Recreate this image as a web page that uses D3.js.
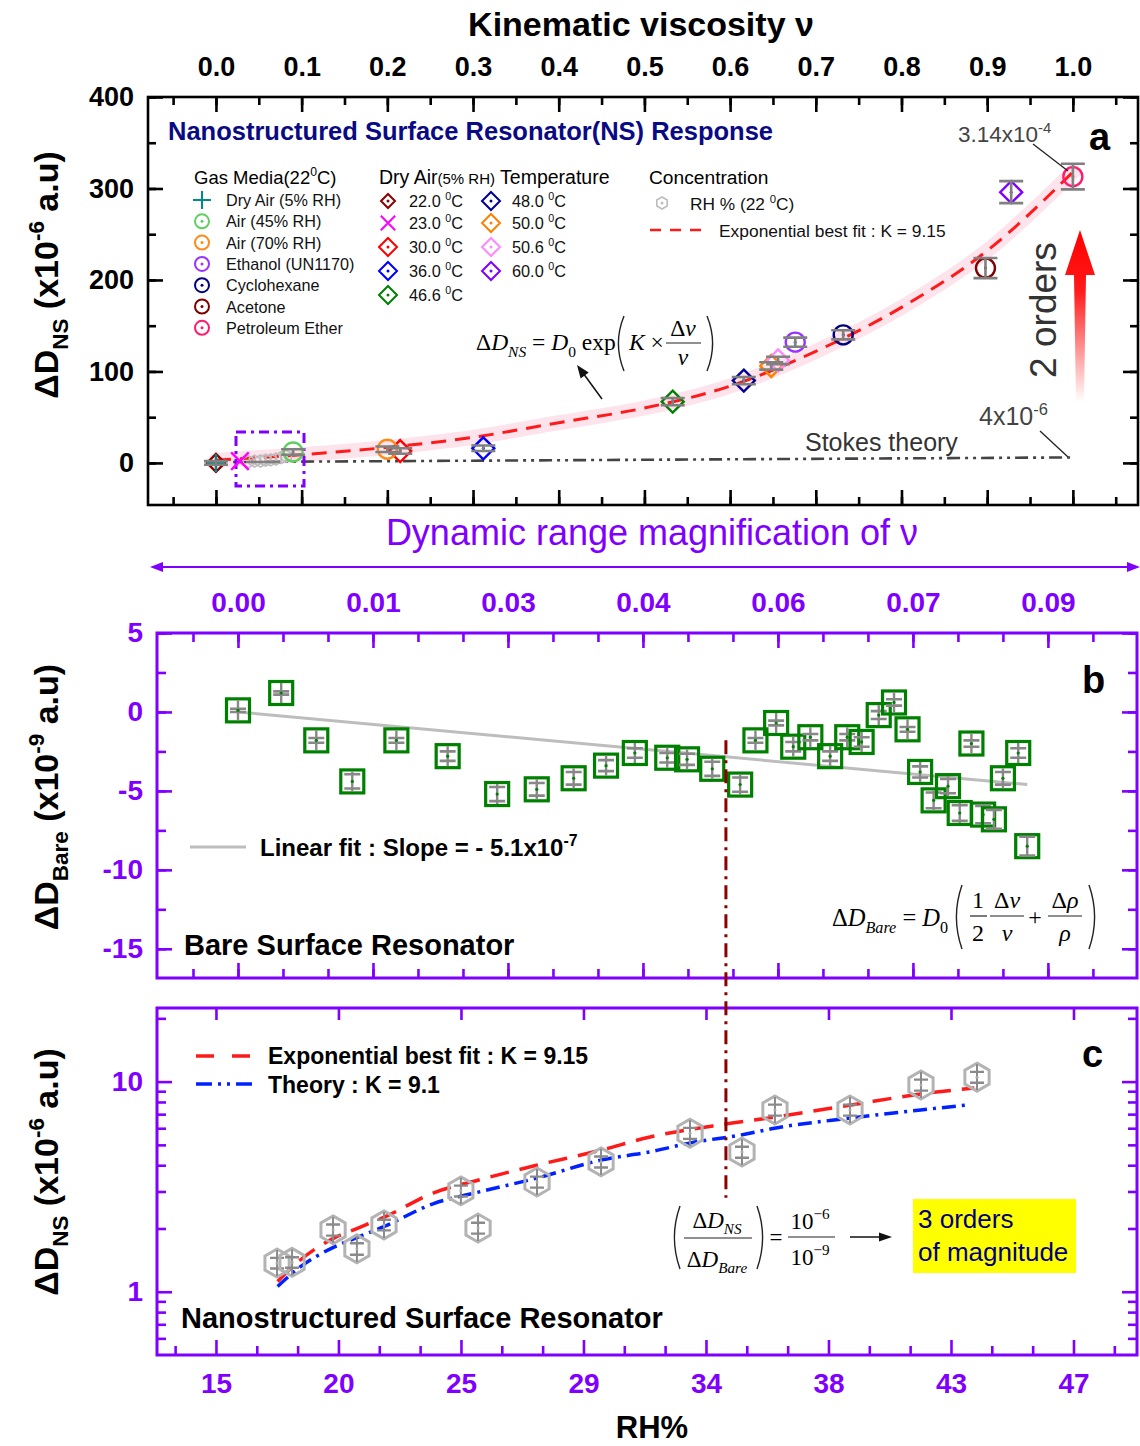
<!DOCTYPE html>
<html><head><meta charset="utf-8">
<script src="https://cdn.jsdelivr.net/npm/d3@7"></script>
<style>body{margin:0;background:#fff}svg{display:block}</style>
</head><body><svg id="chart" width="1140" height="1446"></svg>
<script>
// ---------------- DATA ----------------
// Panel a: kinematic viscosity axis
const nuTickVals = [0,0.1,0.2,0.3,0.4,0.5,0.6,0.7,0.8,0.9,1.0];
const nuTickLabels = ["0.0","0.1","0.2","0.3","0.4","0.5","0.6","0.7","0.8","0.9","1.0"];
const dNsTicks = [0,100,200,300,400];
// Gas media (22 C)
const gasNames = ["Dry Air (5% RH)","Air (45% RH)","Air (70% RH)","Ethanol (UN1170)","Cyclohexane","Acetone","Petroleum Ether"];
const gasNu  = [0.0, 0.090, 0.200, 0.676, 0.732, 0.898, 1.000];
const gasD   = [0, 12, 15, 132, 140, 213, 313];
const gasErr = [2, 3, 3, 5, 5, 11, 14];
// Dry air temperature
const tempNames = ["22.0","23.0","30.0","36.0","46.6","48.0","50.0","50.6","60.0"];
const tempNu  = [0.0, 0.028, 0.215, 0.312, 0.533, 0.616, 0.648, 0.656, 0.928];
const tempD   = [0, 2, 13, 16, 67, 90, 106, 112, 296];
const tempErr = [2, 2, 3, 3, 4, 4, 4, 4, 12];
// RH concentration points shown in panel a (inside dashed box)
const rhNuA = [0.038,0.045,0.052,0.058,0.064,0.070,0.076,0.082];
const rhDA  = [1.4,2.0,2.1,3.0,3.3,4.2,5.7,7.3];
// Exponential best fit (panel a)
const fitNuA = [0,0.1,0.2,0.3,0.4,0.5,0.6,0.7,0.8,0.9,1.0];
const fitDA  = [3,9,17,28,44,60,84,122,170,232,318];
// Stokes theory line
const stokesNu = [0.02,1.0];
const stokesD  = [1,6];

// Panel b: dynamic range magnification axis
const dynTickVals = [0,0.015,0.03,0.045,0.06,0.075,0.09];
const dynTickLabels = ["0.00","0.01","0.03","0.04","0.06","0.07","0.09"];
const bareTicks = [5,0,-5,-10,-15];
const bareX = [0.0000,0.0048,0.0087,0.0127,0.0176,0.0233,0.0288,0.0332,0.0373,0.0409,0.0441,
               0.0477,0.0499,0.0527,0.0558,0.0575,0.0598,0.0617,0.0636,0.0658,0.0677,0.0693,
               0.0712,0.0729,0.0744,0.0758,0.0773,0.0789,0.0802,0.0815,0.0828,0.0840,0.0850,
               0.0867,0.0877];
const bareY = [0.1,1.2,-1.8,-4.4,-1.8,-2.8,-5.2,-4.9,-4.2,-3.4,-2.6,
               -2.9,-3.0,-3.6,-4.6,-1.8,-0.7,-2.2,-1.6,-2.8,-1.6,-1.9,
               -0.2,0.6,-1.1,-3.8,-5.6,-4.7,-6.4,-2.0,-6.5,-6.8,-4.2,
               -2.6,-8.5];
const bareErr = [0.1,0.1,0.15,0.45,0.15,0.3,0.45,0.4,0.4,0.35,0.3,
                 0.3,0.35,0.45,0.45,0.15,0.15,0.3,0.2,0.3,0.2,0.3,
                 0.25,0.2,0.15,0.35,0.5,0.45,0.5,0.2,0.55,0.6,0.4,
                 0.3,0.6];
const bareFitX = [0,0.0877];
const bareFitY = [0,-4.6];

// Panel c: RH% axis
const rhTickVals = [15,19.571,24.143,28.714,33.286,37.857,42.429,47];
const rhTickLabels = ["15","20","25","29","34","38","43","47"];
const nsLogTicks = [1,10];
const nsLogMinor = [0.6,0.7,0.8,0.9,2,3,4,5,6,7,8,9,20];
const ncRH  = [17.28,17.84,19.37,20.26,21.27,24.14,24.78,26.98,29.37,32.69,34.63,35.86,38.66,41.31,43.40];
const ncD   = [1.37,1.38,1.97,1.60,2.08,3.02,2.01,3.33,4.15,5.68,4.62,7.33,7.33,9.64,10.5];
const ncErr = [0.08,0.08,0.12,0.10,0.12,0.18,0.12,0.20,0.25,0.34,0.28,0.44,0.44,0.58,0.63];
const expRH = [17.3,18.1,19.4,20.3,21.3,23.1,24.8,27.0,29.4,31.2,34.0,35.9,38.7,41.3,43.3];
const expD  = [1.12,1.40,1.80,2.01,2.27,2.95,3.40,4.01,4.73,5.45,6.28,6.79,7.74,8.73,9.33];
const thRH  = [17.3,18.1,19.4,20.3,21.3,23.1,24.8,27.0,29.4,31.2,32.7,34.6,35.9,38.7,41.3,43.1];
const thD   = [1.06,1.30,1.63,1.82,2.05,2.62,2.98,3.48,4.24,4.63,5.11,5.57,6.02,6.71,7.33,7.75];
// vertical reference line (RH ~34)
const refRH = 34.03, refBareTop = -1.8, refNsBottom = 2.8;

// ---------------- STYLE ----------------
const FONT = "'Liberation Sans', Arial, Helvetica, sans-serif";
const SERIF = "'Liberation Serif', 'Times New Roman', serif";
const PURPLE = "#7f00ff";
const NAVY = "#000080";
const gasTypes  = ["plus","circle","circle","circle","circle","circle","circle"];
const gasColors = ["#008b8b","#5fcf5f","#ff8a1a","#9933ff","#000080","#800000","#ff1a6e"];
const tempTypes  = ["diamond","x","diamond","diamond","diamond","diamond","diamond","diamond","diamond"];
const tempColors = ["#8b0000","#ff00ff","#ff0000","#0000ff","#008000","#000099","#ff8000","#ff88ff","#8000ff"];

const svg = d3.select("#chart");
const defs = svg.append("defs");

// ---------------- HELPERS ----------------
function rich(t, parts, size) {
  let shift = 0;
  parts.forEach(p => {
    const [s, type, italic, fs] = p;
    const sp = t.append("tspan").text(s);
    const target = type === "sub" ? size * 0.28 : type === "sup" ? -size * 0.42 : 0;
    sp.attr("dy", target - shift);
    shift = target;
    if (type !== "n") sp.attr("font-size", size * 0.66);
    if (fs) sp.attr("font-size", fs);
    if (italic) sp.attr("font-style", "italic");
  });
  return t;
}
function txt(x, y, size, opts = {}) {
  return svg.append("text").attr("x", x).attr("y", y)
    .attr("font-family", opts.family || FONT).attr("font-size", size)
    .attr("font-weight", opts.bold ? "bold" : "normal")
    .attr("fill", opts.color || "#000")
    .attr("text-anchor", opts.anchor || "start");
}
function hexPath(x, y, r) {
  let p = "";
  for (let i = 0; i < 6; i++) {
    const a = Math.PI / 180 * (60 * i - 90);
    p += (i ? "L" : "M") + (x + r * Math.cos(a)).toFixed(2) + "," + (y + r * Math.sin(a)).toFixed(2);
  }
  return p + "Z";
}
function marker(g, type, x, y, r, color, sw) {
  const dot = () => g.append("circle").attr("cx", x).attr("cy", y).attr("r", 1.5).attr("fill", color);
  if (type === "plus") {
    g.append("path").attr("d", `M${x-r},${y}H${x+r}M${x},${y-r}V${y+r}`).attr("stroke", color).attr("stroke-width", sw).attr("fill", "none");
  } else if (type === "x") {
    const k = r * 0.8;
    g.append("path").attr("d", `M${x-k},${y-k}L${x+k},${y+k}M${x-k},${y+k}L${x+k},${y-k}`).attr("stroke", color).attr("stroke-width", sw).attr("fill", "none");
  } else if (type === "circle") {
    g.append("circle").attr("cx", x).attr("cy", y).attr("r", r).attr("fill", "none").attr("stroke", color).attr("stroke-width", sw);
    dot();
  } else if (type === "diamond") {
    g.append("path").attr("d", `M${x},${y-r}L${x+r},${y}L${x},${y+r}L${x-r},${y}Z`).attr("fill", "none").attr("stroke", color).attr("stroke-width", sw);
    dot();
  } else if (type === "hex") {
    g.append("path").attr("d", hexPath(x, y, r)).attr("fill", "none").attr("stroke", color).attr("stroke-width", sw);
    dot();
  }
}
function addAxis(orient, scale, pos, vals, len, color, labels, pad, fsize, lcolor) {
  const make = { left: d3.axisLeft, right: d3.axisRight, top: d3.axisTop, bottom: d3.axisBottom }[orient];
  const gen = make(scale).tickValues(vals).tickSizeInner(-len).tickSizeOuter(0).tickPadding(pad || 0)
    .tickFormat(labels ? (d, i) => labels[i] : () => "");
  const tr = (orient === "left" || orient === "right") ? `translate(${pos},0)` : `translate(0,${pos})`;
  const a = svg.append("g").attr("transform", tr).call(gen);
  a.select(".domain").remove();
  a.selectAll(".tick line").attr("stroke", color).attr("stroke-width", 2.6);
  a.selectAll(".tick text").attr("fill", lcolor || color).attr("font-size", fsize || 0)
    .attr("font-weight", "bold").attr("font-family", FONT);
  return a;
}
function errBar(g, x, y1, y2, cap, color, sw) {
  g.append("path").attr("d", `M${x},${y1}V${y2}M${x-cap},${y1}H${x+cap}M${x-cap},${y2}H${x+cap}`)
    .attr("stroke", color).attr("stroke-width", sw).attr("fill", "none");
}
function paren(x, y1, y2, open, sw) {
  const m = (y1 + y2) / 2, b = open ? -7 : 7;
  svg.append("path").attr("d", `M${x},${y1}Q${x + b * 1.6},${m} ${x},${y2}`)
    .attr("fill", "none").attr("stroke", "#222").attr("stroke-width", sw || 1.4);
}
function arrowHead(x, y, ang, len, wid, color) {
  const c = Math.cos(ang), s = Math.sin(ang);
  const bx = x - c * len, by = y - s * len;
  svg.append("path").attr("d", `M${x},${y}L${bx - s * wid},${by + c * wid}L${bx + s * wid},${by - c * wid}Z`).attr("fill", color);
}

// ---------------- PANEL A ----------------
const xa = d3.scaleLinear().domain([-0.0793, 1.076]).range([148, 1138]);
const ya = d3.scaleLinear().domain([-46, 400]).range([505, 97]);
const gA = svg.append("g");

const nuMinor = d3.range(-0.05, 1.076, 0.05);
addAxis("top", xa, 97, nuMinor, 8, "#000");
addAxis("bottom", xa, 505, nuMinor, 8, "#000");
addAxis("top", xa, 97, nuTickVals, 15, "#000", nuTickLabels, 21, 27);
addAxis("bottom", xa, 505, nuTickVals, 15, "#000");
const dMinor = d3.range(0, 401, 50);
addAxis("left", ya, 148, dMinor, 8, "#000");
addAxis("right", ya, 1138, dMinor, 8, "#000");
addAxis("left", ya, 148, dNsTicks, 15, "#000", dNsTicks.map(String), 14, 27);
addAxis("right", ya, 1138, dNsTicks, 15, "#000");
svg.append("rect").attr("x", 148).attr("y", 97).attr("width", 990).attr("height", 408)
  .attr("fill", "none").attr("stroke", "#000").attr("stroke-width", 2.6);

const lineA = d3.line().x(i => xa(fitNuA[i])).y(i => ya(fitDA[i])).curve(d3.curveMonotoneX);
const idxA = d3.range(fitNuA.length);
gA.append("path").attr("d", lineA(idxA)).attr("fill", "none").attr("stroke", "#fde4ec").attr("stroke-width", 15).attr("stroke-linecap", "round");
gA.append("path").attr("d", lineA(idxA)).attr("fill", "none").attr("stroke", "#ff1a1a").attr("stroke-width", 3).attr("stroke-dasharray", "15,9");
gA.append("path").attr("d", d3.line().x(i => xa(stokesNu[i])).y(i => ya(stokesD[i]))([0, 1]))
  .attr("fill", "none").attr("stroke", "#444").attr("stroke-width", 2.6).attr("stroke-dasharray", "13,5,3,5,3,5");

gA.append("rect").attr("x", 236).attr("y", 432).attr("width", 68).attr("height", 54)
  .attr("fill", "none").attr("stroke", "#8000ff").attr("stroke-width", 3).attr("stroke-dasharray", "10,5,3,5");

rhNuA.forEach((v, i) => marker(gA, "hex", xa(v), ya(rhDA[i]), 6, "#bdbdbd", 1.6));
tempNu.forEach((v, i) => marker(gA, tempTypes[i], xa(v), ya(tempD[i]), tempTypes[i] === "x" ? 11 : (i === 0 ? 9 : 11), tempColors[i], 2.4));
gasNu.forEach((v, i) => marker(gA, gasTypes[i], xa(v), ya(gasD[i]), gasTypes[i] === "plus" ? 9 : 9.5, gasColors[i], 2.4));
tempNu.forEach((v, i) => { if (i !== 1) errBar(gA, xa(v), ya(tempD[i] + tempErr[i]), ya(tempD[i] - tempErr[i]), 12, "#808080", 2.6); });
gasNu.forEach((v, i) => { if (i > 0) errBar(gA, xa(v), ya(gasD[i] + gasErr[i]), ya(gasD[i] - gasErr[i]), 12, "#808080", 2.6); });
gA.append("path").attr("d", `M${xa(0.035)},${ya(1)}H${xa(0.075)}`).attr("stroke", "#808080").attr("stroke-width", 2.6);

txt(641, 36, 34, { bold: true, anchor: "middle" }).text("Kinematic viscosity ν");
txt(168, 140, 25.5, { bold: true, color: "#0a0a85" }).text("Nanostructured Surface Resonator(NS) Response");
txt(1089, 150, 38, { bold: true }).text("a");
rich(txt(58, 275, 34, { bold: true, anchor: "middle" }).attr("transform", "rotate(-90,58,275)"),
  [["ΔD", "n"], ["NS", "sub"], [" (x10", "n"], ["-6", "sup"], [" a.u)", "n"]], 34);

// legends
rich(txt(194, 184, 18.5), [["Gas Media(22", "n"], ["0", "sup"], ["C)", "n"]], 18.5);
gasNames.forEach((n, i) => {
  const y = 200 + i * 21.3;
  marker(svg, gasTypes[i], 202, y, gasTypes[i] === "plus" ? 9 : 7, gasColors[i], 2);
  txt(226, y + 6, 16.2, { color: "#111" }).text(n);
});
rich(txt(379, 184, 19.5), [["Dry Air", "n"], ["(5% RH)", "n", false, 15], [" Temperature", "n"]], 19.5);
const tempLegY = [201, 223, 247, 271, 295];
tempNames.forEach((n, i) => {
  const col = i < 5 ? 0 : 1, row = i < 5 ? i : i - 5;
  const sx = col ? 491 : 388, y = tempLegY[row];
  marker(svg, tempTypes[i], sx, y, tempTypes[i] === "x" ? 9 : (i === 0 ? 7 : 9), tempColors[i], 2);
  rich(txt(sx + 21, y + 6, 16.3, { color: "#111" }), [[n + " ", "n"], ["0", "sup"], ["C", "n"]], 16.3);
});
txt(649, 184, 19.2).text("Concentration");
marker(svg, "hex", 662, 203, 6, "#bdbdbd", 1.6);
rich(txt(690, 210, 17.3, { color: "#111" }), [["RH % (22 ", "n"], ["0", "sup"], ["C)", "n"]], 17.3);
svg.append("path").attr("d", "M650,230H706").attr("stroke", "#ff1a1a").attr("stroke-width", 2.6).attr("stroke-dasharray", "11,9");
txt(719, 237, 17.4, { color: "#111" }).text("Exponential best fit : K = 9.15");

// annotations
rich(txt(958, 142, 22.5, { color: "#444" }), [["3.14x10", "n"], ["-4", "sup"]], 22.5);
svg.append("path").attr("d", "M1033,144L1068,171").attr("stroke", "#222").attr("stroke-width", 1.3);
rich(txt(979, 425, 25, { color: "#444" }), [["4x10", "n"], ["-6", "sup"]], 25);
svg.append("path").attr("d", "M1040,431L1068,457").attr("stroke", "#222").attr("stroke-width", 1.3);
txt(805, 451, 25, { color: "#333" }).text("Stokes theory");
txt(1056, 310, 37, { color: "#333", anchor: "middle" }).attr("transform", "rotate(-90,1056,310)").text("2 orders");
const grad = defs.append("linearGradient").attr("id", "redfade").attr("gradientUnits", "userSpaceOnUse")
  .attr("x1", 0).attr("y1", 230).attr("x2", 0).attr("y2", 402);
grad.append("stop").attr("offset", 0).attr("stop-color", "#ff0000").attr("stop-opacity", 1);
grad.append("stop").attr("offset", 0.35).attr("stop-color", "#ff0000").attr("stop-opacity", 0.9);
grad.append("stop").attr("offset", 1).attr("stop-color", "#ff0000").attr("stop-opacity", 0);
svg.append("path").attr("d", "M1080,230L1095,275L1086,275L1084,402L1076,402L1074,275L1065,275Z").attr("fill", "url(#redfade)");

// formula a
rich(txt(476, 350, 23.5, { family: SERIF }), [["Δ", "n"], ["D", "n", true], ["NS", "sub", true], [" = ", "n"], ["D", "n", true], ["0", "sub"], [" exp", "n"]], 23.5);
paren(624, 316, 371, true);
rich(txt(629, 350, 23.5, { family: SERIF }), [["K", "n", true], [" ×", "n"]], 23.5);
rich(txt(683, 336, 23.5, { family: SERIF, anchor: "middle" }), [["Δ", "n"], ["ν", "n", true]], 23.5);
svg.append("path").attr("d", "M666,343H701").attr("stroke", "#222").attr("stroke-width", 1.2);
txt(683, 365, 23.5, { family: SERIF, anchor: "middle" }).attr("font-style", "italic").text("ν");
paren(707, 316, 371, false);
svg.append("path").attr("d", "M602,399L583,373").attr("stroke", "#111").attr("stroke-width", 1.5);
arrowHead(577, 365, Math.atan2(-26, -19), 13, 5, "#111");

// dynamic range label and double arrow
txt(652, 545, 36, { color: "#8000ff", anchor: "middle" }).text("Dynamic range magnification of ν");
svg.append("path").attr("d", "M160,567H1130").attr("stroke", "#8000ff").attr("stroke-width", 2);
arrowHead(150, 567, Math.PI, 13, 5, "#8000ff");
arrowHead(1140, 567, 0, 13, 5, "#8000ff");

// ---------------- PANEL B ----------------
const xb = d3.scaleLinear().domain([-0.009, 0.0999]).range([157, 1137]);
const yb = d3.scaleLinear().domain([-16.85, 5]).range([978, 633]);
const gB = svg.append("g");
const dynMinor = d3.range(-0.005, 0.0999, 0.005);
addAxis("top", xb, 633, dynMinor, 9, PURPLE);
addAxis("bottom", xb, 978, dynMinor, 9, PURPLE);
addAxis("top", xb, 633, dynTickVals, 15, PURPLE, dynTickLabels, 21, 28, "#8000ff");
addAxis("bottom", xb, 978, dynTickVals, 15, PURPLE);
const bareMinor = d3.range(-15, 5.1, 2.5);
addAxis("left", yb, 157, bareMinor, 9, PURPLE);
addAxis("right", yb, 1137, bareMinor, 9, PURPLE);
addAxis("left", yb, 157, bareTicks, 15, PURPLE, bareTicks.map(String), 14, 28, "#8000ff");
addAxis("right", yb, 1137, bareTicks, 15, PURPLE);
svg.append("rect").attr("x", 157).attr("y", 633).attr("width", 980).attr("height", 345)
  .attr("fill", "none").attr("stroke", PURPLE).attr("stroke-width", 3);

gB.append("path").attr("d", d3.line().x(i => xb(bareFitX[i])).y(i => yb(bareFitY[i]))([0, 1]))
  .attr("stroke", "#bdbdbd").attr("stroke-width", 3).attr("fill", "none");
bareX.forEach((v, i) => {
  const x = xb(v), y = yb(bareY[i]);
  gB.append("rect").attr("x", x - 11.5).attr("y", y - 11.5).attr("width", 23).attr("height", 23)
    .attr("fill", "none").attr("stroke", "#008000").attr("stroke-width", 3.2);
  gB.append("path").attr("d", `M${x},${y-10}V${y+10}`).attr("stroke", "#888").attr("stroke-width", 2.4);
  const e1 = yb(bareY[i] + bareErr[i]), e2 = yb(bareY[i] - bareErr[i]);
  gB.append("path").attr("d", `M${x-8},${e1}H${x+8}M${x-8},${e2}H${x+8}`).attr("stroke", "#888").attr("stroke-width", 2.6);
  gB.append("circle").attr("cx", x).attr("cy", y).attr("r", 1.6).attr("fill", "#008000");
});
svg.append("path").attr("d", "M190,847H246").attr("stroke", "#bdbdbd").attr("stroke-width", 3);
rich(txt(260, 856, 24, { bold: true }), [["Linear fit : Slope = - 5.1x10", "n"], ["-7", "sup"]], 24);
txt(184, 955, 29, { bold: true }).text("Bare Surface Resonator");
txt(1082, 693, 38, { bold: true }).text("b");
rich(txt(58, 797, 34, { bold: true, anchor: "middle" }).attr("transform", "rotate(-90,58,797)"),
  [["ΔD", "n"], ["Bare", "sub"], [" (x10", "n"], ["-9", "sup"], [" a.u)", "n"]], 34);
// formula b
rich(txt(832, 926, 24.5, { family: SERIF }), [["Δ", "n"], ["D", "n", true], ["Bare", "sub", true], [" = ", "n"], ["D", "n", true], ["0", "sub"]], 24.5);
paren(962, 885, 949, true);
txt(978, 908, 24, { family: SERIF, anchor: "middle" }).text("1");
svg.append("path").attr("d", "M970,916H987").attr("stroke", "#222").attr("stroke-width", 1.2);
txt(978, 941, 24, { family: SERIF, anchor: "middle" }).text("2");
rich(txt(1007, 908, 24, { family: SERIF, anchor: "middle" }), [["Δ", "n"], ["ν", "n", true]], 24);
svg.append("path").attr("d", "M990,916H1024").attr("stroke", "#222").attr("stroke-width", 1.2);
txt(1007, 941, 24, { family: SERIF, anchor: "middle" }).attr("font-style", "italic").text("ν");
txt(1035, 925, 24, { family: SERIF, anchor: "middle" }).text("+");
rich(txt(1065, 908, 24, { family: SERIF, anchor: "middle" }), [["Δ", "n"], ["ρ", "n", true]], 24);
svg.append("path").attr("d", "M1048,916H1082").attr("stroke", "#222").attr("stroke-width", 1.2);
txt(1065, 941, 24, { family: SERIF, anchor: "middle" }).attr("font-style", "italic").text("ρ");
paren(1089, 885, 949, false);

// ---------------- PANEL C ----------------
const xc = d3.scaleLinear().domain([12.8, 49.37]).range([157, 1137]);
const yc = d3.scaleLog().domain([0.5, 22.4]).range([1355, 1008]);
const gC = svg.append("g");
const rhMinor = [];
for (let i = -1; i < rhTickVals.length; i++) {
  const a = i < 0 ? rhTickVals[0] - (rhTickVals[1] - rhTickVals[0]) : rhTickVals[i];
  const st = (rhTickVals[1] - rhTickVals[0]) / 3;
  [1, 2].forEach(k => { const v = a + k * st; if (v > 12.8 && v < 49.37) rhMinor.push(v); });
}
addAxis("bottom", xc, 1355, rhMinor, 9, PURPLE);
addAxis("bottom", xc, 1355, rhTickVals, 15, PURPLE, rhTickLabels, 18, 28, "#8000ff");
addAxis("top", xc, 1008, rhTickVals, 12, PURPLE);
addAxis("left", yc, 157, nsLogMinor, 9, PURPLE);
addAxis("right", yc, 1137, nsLogMinor, 9, PURPLE);
addAxis("left", yc, 157, nsLogTicks, 15, PURPLE, nsLogTicks.map(String), 14, 28, "#8000ff");
addAxis("right", yc, 1137, nsLogTicks, 15, PURPLE);
svg.append("rect").attr("x", 157).attr("y", 1008).attr("width", 980).attr("height", 347)
  .attr("fill", "none").attr("stroke", PURPLE).attr("stroke-width", 3);

svg.append("path").attr("d", `M${xc(refRH)},${yb(refBareTop)}V${yc(refNsBottom)}`)
  .attr("stroke", "#8b0000").attr("stroke-width", 3).attr("stroke-dasharray", "14,6,3,6");

gC.append("path").attr("d", d3.line().x(i => xc(expRH[i])).y(i => yc(expD[i])).curve(d3.curveMonotoneX)(d3.range(expRH.length)))
  .attr("fill", "none").attr("stroke", "#ff1a1a").attr("stroke-width", 3.5).attr("stroke-dasharray", "19,11");
gC.append("path").attr("d", d3.line().x(i => xc(thRH[i])).y(i => yc(thD[i])).curve(d3.curveMonotoneX)(d3.range(thRH.length)))
  .attr("fill", "none").attr("stroke", "#0022ff").attr("stroke-width", 3.5).attr("stroke-dasharray", "14,6,3,6");
ncRH.forEach((v, i) => {
  const x = xc(v), y = yc(ncD[i]);
  gC.append("path").attr("d", hexPath(x, y, 14)).attr("fill", "none").attr("stroke", "#b3b3b3").attr("stroke-width", 3);
  gC.append("path").attr("d", `M${x},${y-13}V${y+13}`).attr("stroke", "#8a8a8a").attr("stroke-width", 2);
  const e1 = yc(ncD[i] + ncErr[i]), e2 = yc(ncD[i] - ncErr[i]);
  gC.append("path").attr("d", `M${x-7},${e1}H${x+7}M${x-7},${e2}H${x+7}`).attr("stroke", "#8a8a8a").attr("stroke-width", 2.4);
  gC.append("circle").attr("cx", x).attr("cy", y).attr("r", 1.5).attr("fill", "#aaa");
});
svg.append("path").attr("d", "M196,1056H250").attr("stroke", "#ff1a1a").attr("stroke-width", 3.5).attr("stroke-dasharray", "18,18");
txt(268, 1064, 23, { bold: true }).text("Exponential best fit : K = 9.15");
svg.append("path").attr("d", "M196,1084H252").attr("stroke", "#0022ff").attr("stroke-width", 3.5).attr("stroke-dasharray", "16,6,3,6,3,6");
txt(268, 1093, 23, { bold: true }).text("Theory : K = 9.1");
txt(1082, 1067, 38, { bold: true }).text("c");
txt(181, 1328, 29, { bold: true }).text("Nanostructured Surface Resonator");
rich(txt(58, 1172, 34, { bold: true, anchor: "middle" }).attr("transform", "rotate(-90,58,1172)"),
  [["ΔD", "n"], ["NS", "sub"], [" (x10", "n"], ["-6", "sup"], [" a.u)", "n"]], 34);
txt(652, 1438, 31, { bold: true, anchor: "middle" }).text("RH%");

// formula c
paren(680, 1206, 1269, true);
rich(txt(717, 1228, 23, { family: SERIF, anchor: "middle" }), [["Δ", "n"], ["D", "n", true], ["NS", "sub", true]], 23);
svg.append("path").attr("d", "M684,1238H752").attr("stroke", "#222").attr("stroke-width", 1.2);
rich(txt(717, 1267, 23, { family: SERIF, anchor: "middle" }), [["Δ", "n"], ["D", "n", true], ["Bare", "sub", true]], 23);
paren(757, 1206, 1269, false);
txt(776, 1245, 23, { family: SERIF, anchor: "middle" }).text("=");
rich(txt(810, 1229, 23, { family: SERIF, anchor: "middle" }), [["10", "n"], ["−6", "sup"]], 23);
svg.append("path").attr("d", "M788,1237H835").attr("stroke", "#222").attr("stroke-width", 1.2);
rich(txt(810, 1265, 23, { family: SERIF, anchor: "middle" }), [["10", "n"], ["−9", "sup"]], 23);
svg.append("path").attr("d", "M850,1237H881").attr("stroke", "#111").attr("stroke-width", 1.5);
arrowHead(892, 1237, 0, 13, 4.5, "#111");
svg.append("rect").attr("x", 913).attr("y", 1199).attr("width", 163).attr("height", 74).attr("fill", "#ffff00");
txt(918, 1228, 26, { color: NAVY }).text("3 orders");
txt(918, 1261, 26, { color: NAVY }).text("of magnitude");
</script></body></html>
